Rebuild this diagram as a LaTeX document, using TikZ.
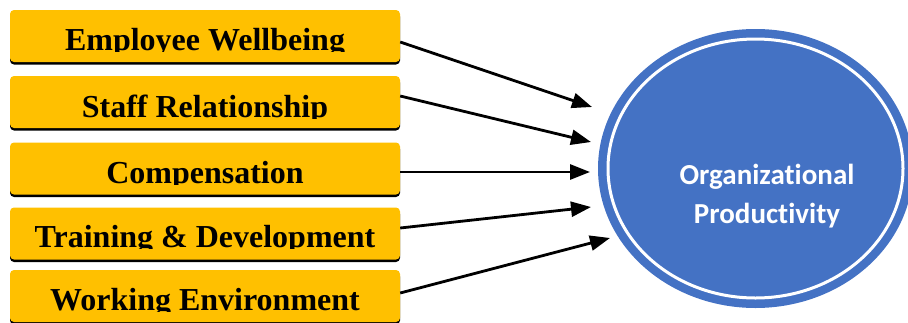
\documentclass[tikz,border=0pt]{standalone}
\usepackage{fontspec}
\setmainfont{Liberation Serif}
\newfontfamily\calib[Ligatures=NoCommon]{Carlito}
\usetikzlibrary{arrows.meta,shapes.geometric,calc}
\definecolor{gold}{HTML}{FFC000}
\definecolor{blu}{HTML}{4472C4}
\begin{document}
\begin{tikzpicture}[x=1pt,y=-1pt,
  factor/.style={draw=none, fill=gold, rounded corners=4pt, minimum width=390pt,
    minimum height=52pt, inner sep=0pt,
    preaction={fill=black, transform canvas={yshift=-2.5pt}}},
  lbl/.style={font=\fontsize{32}{36}\selectfont\bfseries, anchor=base, inner sep=0pt},
  arr/.style={line width=2.8pt, -{Triangle[length=20pt,width=15pt]}}]
\clip (0,0) rectangle (908,322);
% factor boxes
\node[factor] (b1) at (205,36) {};
\node[factor] (b2) at (205,102) {};
\node[factor] (b3) at (205,168.5) {};
\node[factor] (b4) at (205,233.5) {};
\node[factor] (b5) at (205,296) {};
% clipped labels
\begin{scope}\clip (10,10) rectangle (400,51);
  \node[lbl] (l1) at (205,50) {Employee Wellbeing};\end{scope}
\begin{scope}\clip (10,76) rectangle (400,118);
  \node[lbl] (l2) at (205,117) {Staff Relationship};\end{scope}
\begin{scope}\clip (10,143) rectangle (400,184);
  \node[lbl] (l3) at (205,183) {Compensation};\end{scope}
\begin{scope}\clip (10,208) rectangle (400,248);
  \node[lbl] (l4) at (205,247) {Training \& Development};\end{scope}
\begin{scope}\clip (10,270) rectangle (400,311);
  \node[lbl] (l5) at (205,310) {Working Environment};\end{scope}
% outcome
\node[ellipse, fill=blu, minimum width=315pt, minimum height=279pt, inner sep=0pt] (org) at (755.5,168.5) {};
\draw[white, line width=3pt] (org.center) ellipse [x radius=147.5, y radius=129.5];
\node[text=white, align=center, font=\calib\bfseries\fontsize{29}{39}\selectfont] (orgt) at (767,196) {Organizational\\Productivity};
% arrow targets
\coordinate (t1) at (592,107);
\coordinate (t2) at (591,142);
\coordinate (t3) at (590,172);
\coordinate (t4) at (591,207);
\coordinate (t5) at (610,238);
\draw[arr] ($(b1.east)+(0,6)$) -- (t1);
\draw[arr] ($(b2.east)+(0,-6)$) -- (t2);
\draw[arr] ($(b3.east)+(0,3.5)$) -- (t3);
\draw[arr] ($(b4.east)+(0,-5.5)$) -- (t4);
\draw[arr] ($(b5.east)+(0,-3)$) -- (t5);
\end{tikzpicture}
\end{document}
